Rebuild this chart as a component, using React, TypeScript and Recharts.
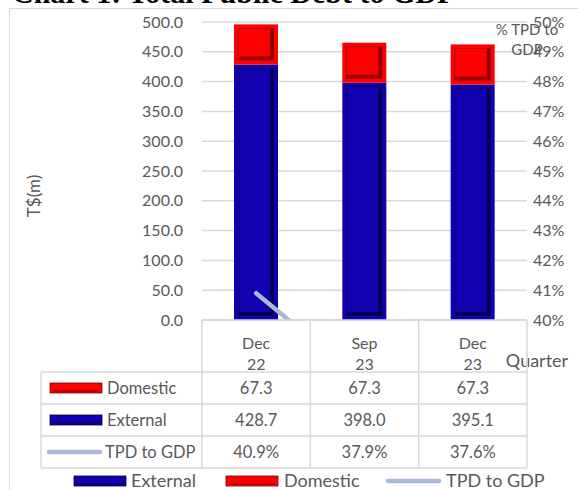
import { ComposedChart, Bar, Line, XAxis, YAxis, CartesianGrid } from 'recharts';

const quarters = ['Dec 22', 'Sep 23', 'Dec 23'];
const domestic = [67.3, 67.3, 67.3];
const external = [428.7, 398.0, 395.1];
const tpdToGdp = [40.9, 37.9, 37.6];
const leftTicks = [0, 50, 100, 150, 200, 250, 300, 350, 400, 450, 500];
const rightTicks = [40, 41, 42, 43, 44, 45, 46, 47, 48, 49, 50];

const W = 578;
const H = 490;
const PLOT_LEFT = 202;
const PLOT_RIGHT = 527;
const PLOT_TOP = 22;
const PLOT_BOTTOM = 320;
const FONT = 'Lato, "Open Sans", sans-serif';
const GREY = '#595959';
const RULE = '#d9d9d9';
const RED = '#ff0000';
const RED_DARK = '#7a0000';
const BLUE = '#1200b0';
const BLUE_DARK = '#04003f';
const LINE = '#a9b9d9';

const data = quarters.map((q, i) => ({
  q,
  domestic: domestic[i],
  external: external[i],
  tpd: tpdToGdp[i],
}));

// bevelled block like the excel 3d bar style
function bevel(base: string, dark: string) {
  return (props: any) => {
    const { x, y, width: w, height: h } = props;
    if (!w || !h || h < 2) return <g />;
    const d = Math.min(4, h / 4);
    const s = Math.min(4, h / 5);
    return (
      <g>
        <rect x={x} y={y} width={w} height={h} fill={base} />
        <path
          d={`M${x + d},${y + h - d} L${x + d},${y + d} L${x + w - d},${y + d}`}
          fill="none"
          stroke={dark}
          strokeOpacity={0.55}
          strokeWidth={1}
        />
        <polygon
          points={`${x + w - d},${y + d} ${x + w - d},${y + h - d} ${x + w - d - s},${y + h - d - s} ${x + w - d - s},${y + d + 1}`}
          fill={dark}
          fillOpacity={0.85}
        />
        <polygon
          points={`${x + d},${y + h - d} ${x + w - d},${y + h - d} ${x + w - d - s},${y + h - d - s} ${x + d + 1},${y + h - d - s}`}
          fill={dark}
          fillOpacity={0.75}
        />
      </g>
    );
  };
}

function QuarterTick(props: any) {
  const { x, y, payload } = props;
  const [m, yr] = String(payload.value).split(' ');
  return (
    <g>
      <text x={x} y={y + 21} textAnchor="middle" fill={GREY} fontSize={16} fontFamily={FONT}>{m}</text>
      <text x={x} y={y + 42} textAnchor="middle" fill={GREY} fontSize={16} fontFamily={FONT}>{yr}</text>
    </g>
  );
}

function Swatch({ x, y, color, dark }: { x: number; y: number; color: string; dark: string }) {
  return (
    <g>
      <rect x={x} y={y - 5} width={52} height={10} fill={color} stroke={dark} strokeWidth={0.8} />
      <line x1={x + 3} y1={y + 3} x2={x + 49} y2={y + 3} stroke={dark} strokeWidth={1} />
    </g>
  );
}

function LineSwatch({ x, y }: { x: number; y: number }) {
  return <line x1={x + 2} y1={y} x2={x + 53} y2={y} stroke={LINE} strokeWidth={4.5} strokeLinecap="round" />;
}

function Overlay() {
  const band = (PLOT_RIGHT - PLOT_LEFT) / quarters.length;
  const centers = quarters.map((_, i) => PLOT_LEFT + band * (i + 0.5));
  const rowTops = [372, 404, 436, 468];
  const rows = [
    { label: 'Domestic', values: domestic.map((v) => v.toFixed(1)), key: 'dom' },
    { label: 'External', values: external.map((v) => v.toFixed(1)), key: 'ext' },
    { label: 'TPD to GDP', values: tpdToGdp.map((v) => v.toFixed(1) + '%'), key: 'tpd' },
  ];
  const txt = { fill: GREY, fontFamily: FONT, fontSize: 16.5 } as const;
  return (
    <svg width={W} height={H} style={{ position: 'absolute', left: 0, top: 0, pointerEvents: 'none' }}>
      <text x={12} y={3} fontFamily='"Liberation Serif", serif' fontWeight="bold" fontSize={30} fill="#000">
        Chart 1: Total Public Debt to GDP
      </text>
      <rect x={9.5} y={8.5} width={700} height={700} fill="none" stroke={RULE} strokeWidth={1} />

      <text transform="translate(40,196) rotate(-90)" textAnchor="middle" {...txt} fontSize={17}>T$(m)</text>
      <text x={527} y={35} textAnchor="middle" {...txt} fontSize={15}>% TPD to</text>
      <text x={527} y={55} textAnchor="middle" {...txt} fontSize={15}>GDP</text>
      <text x={537} y={367} textAnchor="middle" {...txt} fontSize={18}>Quarter</text>

      {/* data table grid */}
      {[PLOT_LEFT, ...centers.map((c) => c + band / 2)].map((vx, i) => (
        <line key={'v' + i} x1={vx} y1={PLOT_BOTTOM} x2={vx} y2={rowTops[3]} stroke={RULE} strokeWidth={1.5} />
      ))}
      <line x1={41} y1={rowTops[0]} x2={41} y2={rowTops[3]} stroke={RULE} strokeWidth={1.5} />
      {rowTops.map((ty, i) => (
        <line key={'h' + i} x1={41} y1={ty} x2={PLOT_RIGHT} y2={ty} stroke={RULE} strokeWidth={1.5} />
      ))}
      {rows.map((r, ri) => {
        const cy = rowTops[ri] + 16;
        return (
          <g key={r.key}>
            {r.key === 'dom' && <Swatch x={50} y={cy} color={RED} dark={RED_DARK} />}
            {r.key === 'ext' && <Swatch x={50} y={cy} color={BLUE} dark={BLUE_DARK} />}
            {r.key === 'tpd' && <LineSwatch x={47} y={cy} />}
            <text x={r.key === 'tpd' ? 105 : 107} y={cy + 6} {...txt}>{r.label}</text>
            {r.values.map((v, ci) => (
              <text key={ci} x={centers[ci]} y={cy + 6} textAnchor="middle" {...txt}>{v}</text>
            ))}
          </g>
        );
      })}

      {/* legend */}
      <Swatch x={74} y={481} color={BLUE} dark={BLUE_DARK} />
      <text x={131} y={487} {...txt} fontSize={18}>External</text>
      <Swatch x={226} y={481} color={RED} dark={RED_DARK} />
      <text x={284} y={487} {...txt} fontSize={18}>Domestic</text>
      <LineSwatch x={386} y={481} />
      <text x={446} y={487} {...txt} fontSize={18}>TPD to GDP</text>
    </svg>
  );
}

export default function App() {
  return (
    <div style={{ position: 'absolute', left: 0, top: 0, width: W, height: H, background: '#fff', overflow: 'hidden' }}>
      <ComposedChart
        width={W}
        height={H}
        data={data}
        margin={{ top: PLOT_TOP, right: 0, left: 0, bottom: H - PLOT_BOTTOM - 52 }}
        barSize={44}
      >
        <CartesianGrid vertical={false} stroke={RULE} strokeWidth={1.5} yAxisId="left" />
        <XAxis
          dataKey="q"
          height={52}
          axisLine={{ stroke: RULE, strokeWidth: 1.5 }}
          tickLine={false}
          tick={<QuarterTick />}
          interval={0}
        />
        <YAxis
          yAxisId="left"
          width={PLOT_LEFT}
          domain={[0, 500]}
          ticks={leftTicks}
          tickFormatter={(v: number) => v.toFixed(1)}
          axisLine={false}
          tickLine={false}
          tickSize={0}
          tickMargin={19}
          tick={{ fill: GREY, fontSize: 16, fontFamily: FONT }}
        />
        <YAxis
          yAxisId="right"
          orientation="right"
          width={W - PLOT_RIGHT}
          domain={[40, 50]}
          ticks={rightTicks}
          allowDataOverflow
          tickFormatter={(v: number) => v + '%'}
          axisLine={false}
          tickLine={false}
          tickSize={0}
          tickMargin={6}
          tick={{ fill: GREY, fontSize: 16, fontFamily: FONT, textAnchor: 'start' }}
        />
        <Bar yAxisId="left" dataKey="external" stackId="a" fill={BLUE} shape={bevel(BLUE, BLUE_DARK)} isAnimationActive={false} />
        <Bar yAxisId="left" dataKey="domestic" stackId="a" fill={RED} shape={bevel(RED, RED_DARK)} isAnimationActive={false} />
        <Line
          yAxisId="right"
          dataKey="tpd"
          type="linear"
          stroke={LINE}
          strokeWidth={4.5}
          strokeLinecap="round"
          dot={false}
          isAnimationActive={false}
        />
      </ComposedChart>
      <Overlay />
    </div>
  );
}
